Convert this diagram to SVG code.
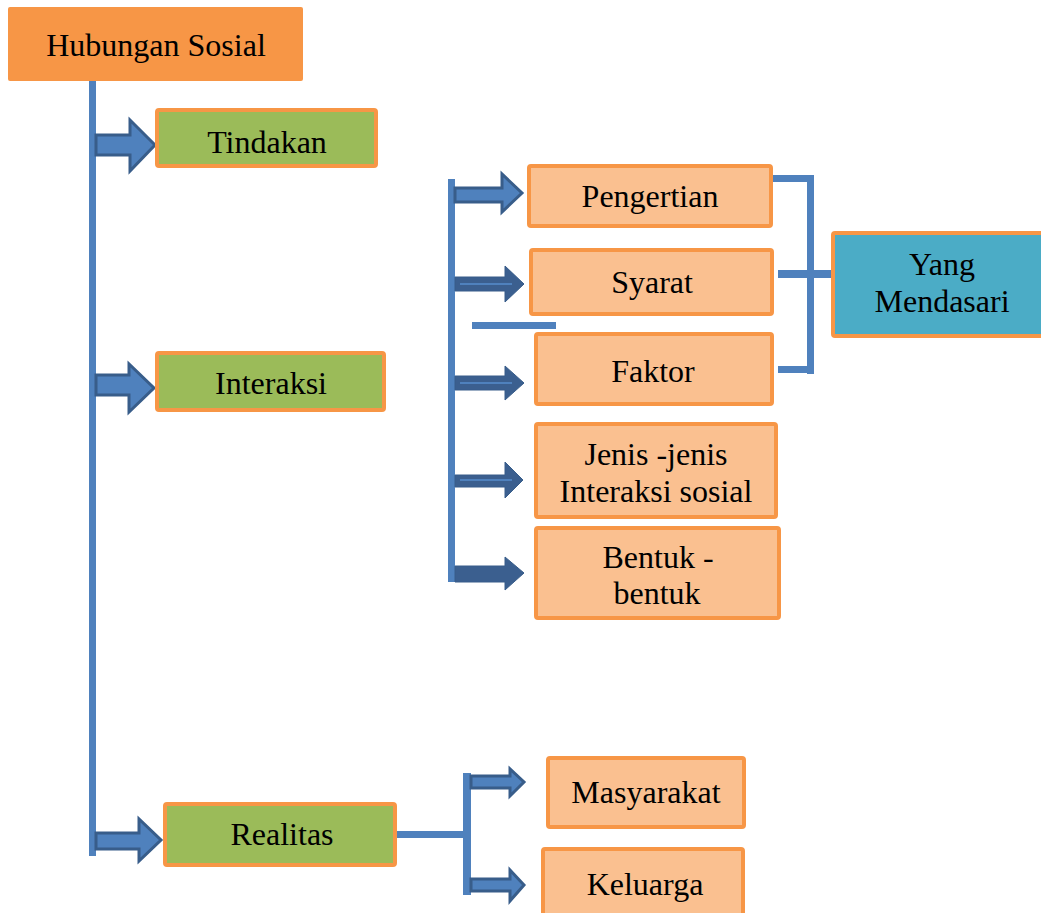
<svg xmlns="http://www.w3.org/2000/svg" width="1041" height="913" viewBox="0 0 1041 913">
<style>
  .t { font-family: "Liberation Serif", "Times New Roman", serif; font-size: 32px; fill: #000; text-anchor: middle; }
  .green { fill: #9BBB59; stroke: #F79646; stroke-width: 4; }
  .peach { fill: #FAC090; stroke: #F79646; stroke-width: 4; }
  .teal { fill: #4BACC6; stroke: #F79646; stroke-width: 4; }
  .line { fill: #4F81BD; stroke: none; }
  .arr { fill: #4F81BD; stroke: #385D8A; stroke-width: 3; stroke-linejoin: miter; }
  .arrd { fill: #3B5F8F; stroke: #385D8A; stroke-width: 1; }
  .hi { stroke: #4F81BD; stroke-width: 2; }
</style>
<rect width="1041" height="913" fill="#FFFFFF"/>
<g id="connectors">
  <!-- main trunk -->
  <rect class="line" x="89" y="81" width="7" height="775"/>
  <!-- main arrows -->
  <polygon class="arr" points="96,135 130,135 130,120 155,145 130,171 130,155 96,155"/>
  <polygon class="arr" points="96,375 129,375 129,364 154,388 129,412 129,395 96,395"/>
  <polygon class="arr" points="96,833 139,833 139,819 161,840 139,861 139,849 96,849"/>
  <!-- interaksi sub trunk -->
  <rect class="line" x="448" y="179" width="7" height="403"/>
  <polygon class="arr" points="455,188 502,188 502,174 522,193 502,212 502,202 455,202"/>
  <polygon class="arrd" points="455,277 505,277 505,266 524,284 505,302 505,291 455,291"/>
  <line class="hi" x1="460" y1="284" x2="512" y2="284"/>
  <polygon class="arrd" points="455,376 505,376 505,366 524,383 505,400 505,390 455,390"/>
  <line class="hi" x1="460" y1="383" x2="512" y2="383"/>
  <polygon class="arrd" points="455,475 505,475 505,462 523,480 505,498 505,487 455,487"/>
  <line class="hi" x1="460" y1="480" x2="512" y2="480"/>
  <polygon class="arrd" points="455,566 505,566 505,557 524,573 505,590 505,582 455,582"/>
  <!-- stray line -->
  <rect class="line" x="472" y="322" width="84" height="7"/>
  <!-- bracket to Yang Mendasari -->
  <rect class="line" x="773" y="175" width="41" height="7"/>
  <rect class="line" x="807" y="175" width="7" height="199"/>
  <rect class="line" x="778" y="366" width="36" height="7"/>
  <rect class="line" x="778" y="270" width="55" height="8"/>
  <!-- realitas branch -->
  <rect class="line" x="396" y="831" width="70" height="7"/>
  <rect class="line" x="463" y="773" width="8" height="122"/>
  <polygon class="arr" points="471,776 510,776 510,769 524,782 510,796 510,788 471,788"/>
  <polygon class="arr" points="471,879 510,879 510,870 524,885 510,901 510,891 471,891"/>
</g>
<g id="node-hubungan">
  <rect x="8" y="7" width="295" height="74" rx="2" fill="#F79646"/>
  <text class="t" x="156" y="56">Hubungan Sosial</text>
</g>
<g id="node-tindakan">
  <rect class="green" x="157" y="110" width="219" height="56" rx="2"/>
  <text class="t" x="267" y="153">Tindakan</text>
</g>
<g id="node-interaksi">
  <rect class="green" x="157" y="353" width="227" height="57" rx="2"/>
  <text class="t" x="271" y="394">Interaksi</text>
</g>
<g id="node-realitas">
  <rect class="green" x="165" y="804" width="230" height="61" rx="2"/>
  <text class="t" x="282" y="845">Realitas</text>
</g>
<g id="node-pengertian">
  <rect class="peach" x="529" y="166" width="242" height="60" rx="2"/>
  <text class="t" x="650" y="207">Pengertian</text>
</g>
<g id="node-syarat">
  <rect class="peach" x="531" y="250" width="241" height="64" rx="2"/>
  <text class="t" x="652" y="293">Syarat</text>
</g>
<g id="node-faktor">
  <rect class="peach" x="536" y="334" width="236" height="70" rx="2"/>
  <text class="t" x="653" y="382">Faktor</text>
</g>
<g id="node-jenis">
  <rect class="peach" x="536" y="424" width="240" height="93" rx="2"/>
  <text class="t" x="656" y="465">Jenis -jenis</text>
  <text class="t" x="656" y="502">Interaksi sosial</text>
</g>
<g id="node-bentuk">
  <rect class="peach" x="536" y="528" width="243" height="90" rx="2"/>
  <text class="t" x="658" y="568">Bentuk -</text>
  <text class="t" x="657" y="604">bentuk</text>
</g>
<g id="node-yang">
  <rect class="teal" x="833" y="233" width="220" height="103" rx="2"/>
  <text class="t" x="942" y="275">Yang</text>
  <text class="t" x="942" y="312">Mendasari</text>
</g>
<g id="node-masyarakat">
  <rect class="peach" x="548" y="758" width="196" height="69" rx="2"/>
  <text class="t" x="646" y="803">Masyarakat</text>
</g>
<g id="node-keluarga">
  <rect class="peach" x="543" y="849" width="200" height="80" rx="2"/>
  <text class="t" x="645" y="895">Keluarga</text>
</g>
</svg>
